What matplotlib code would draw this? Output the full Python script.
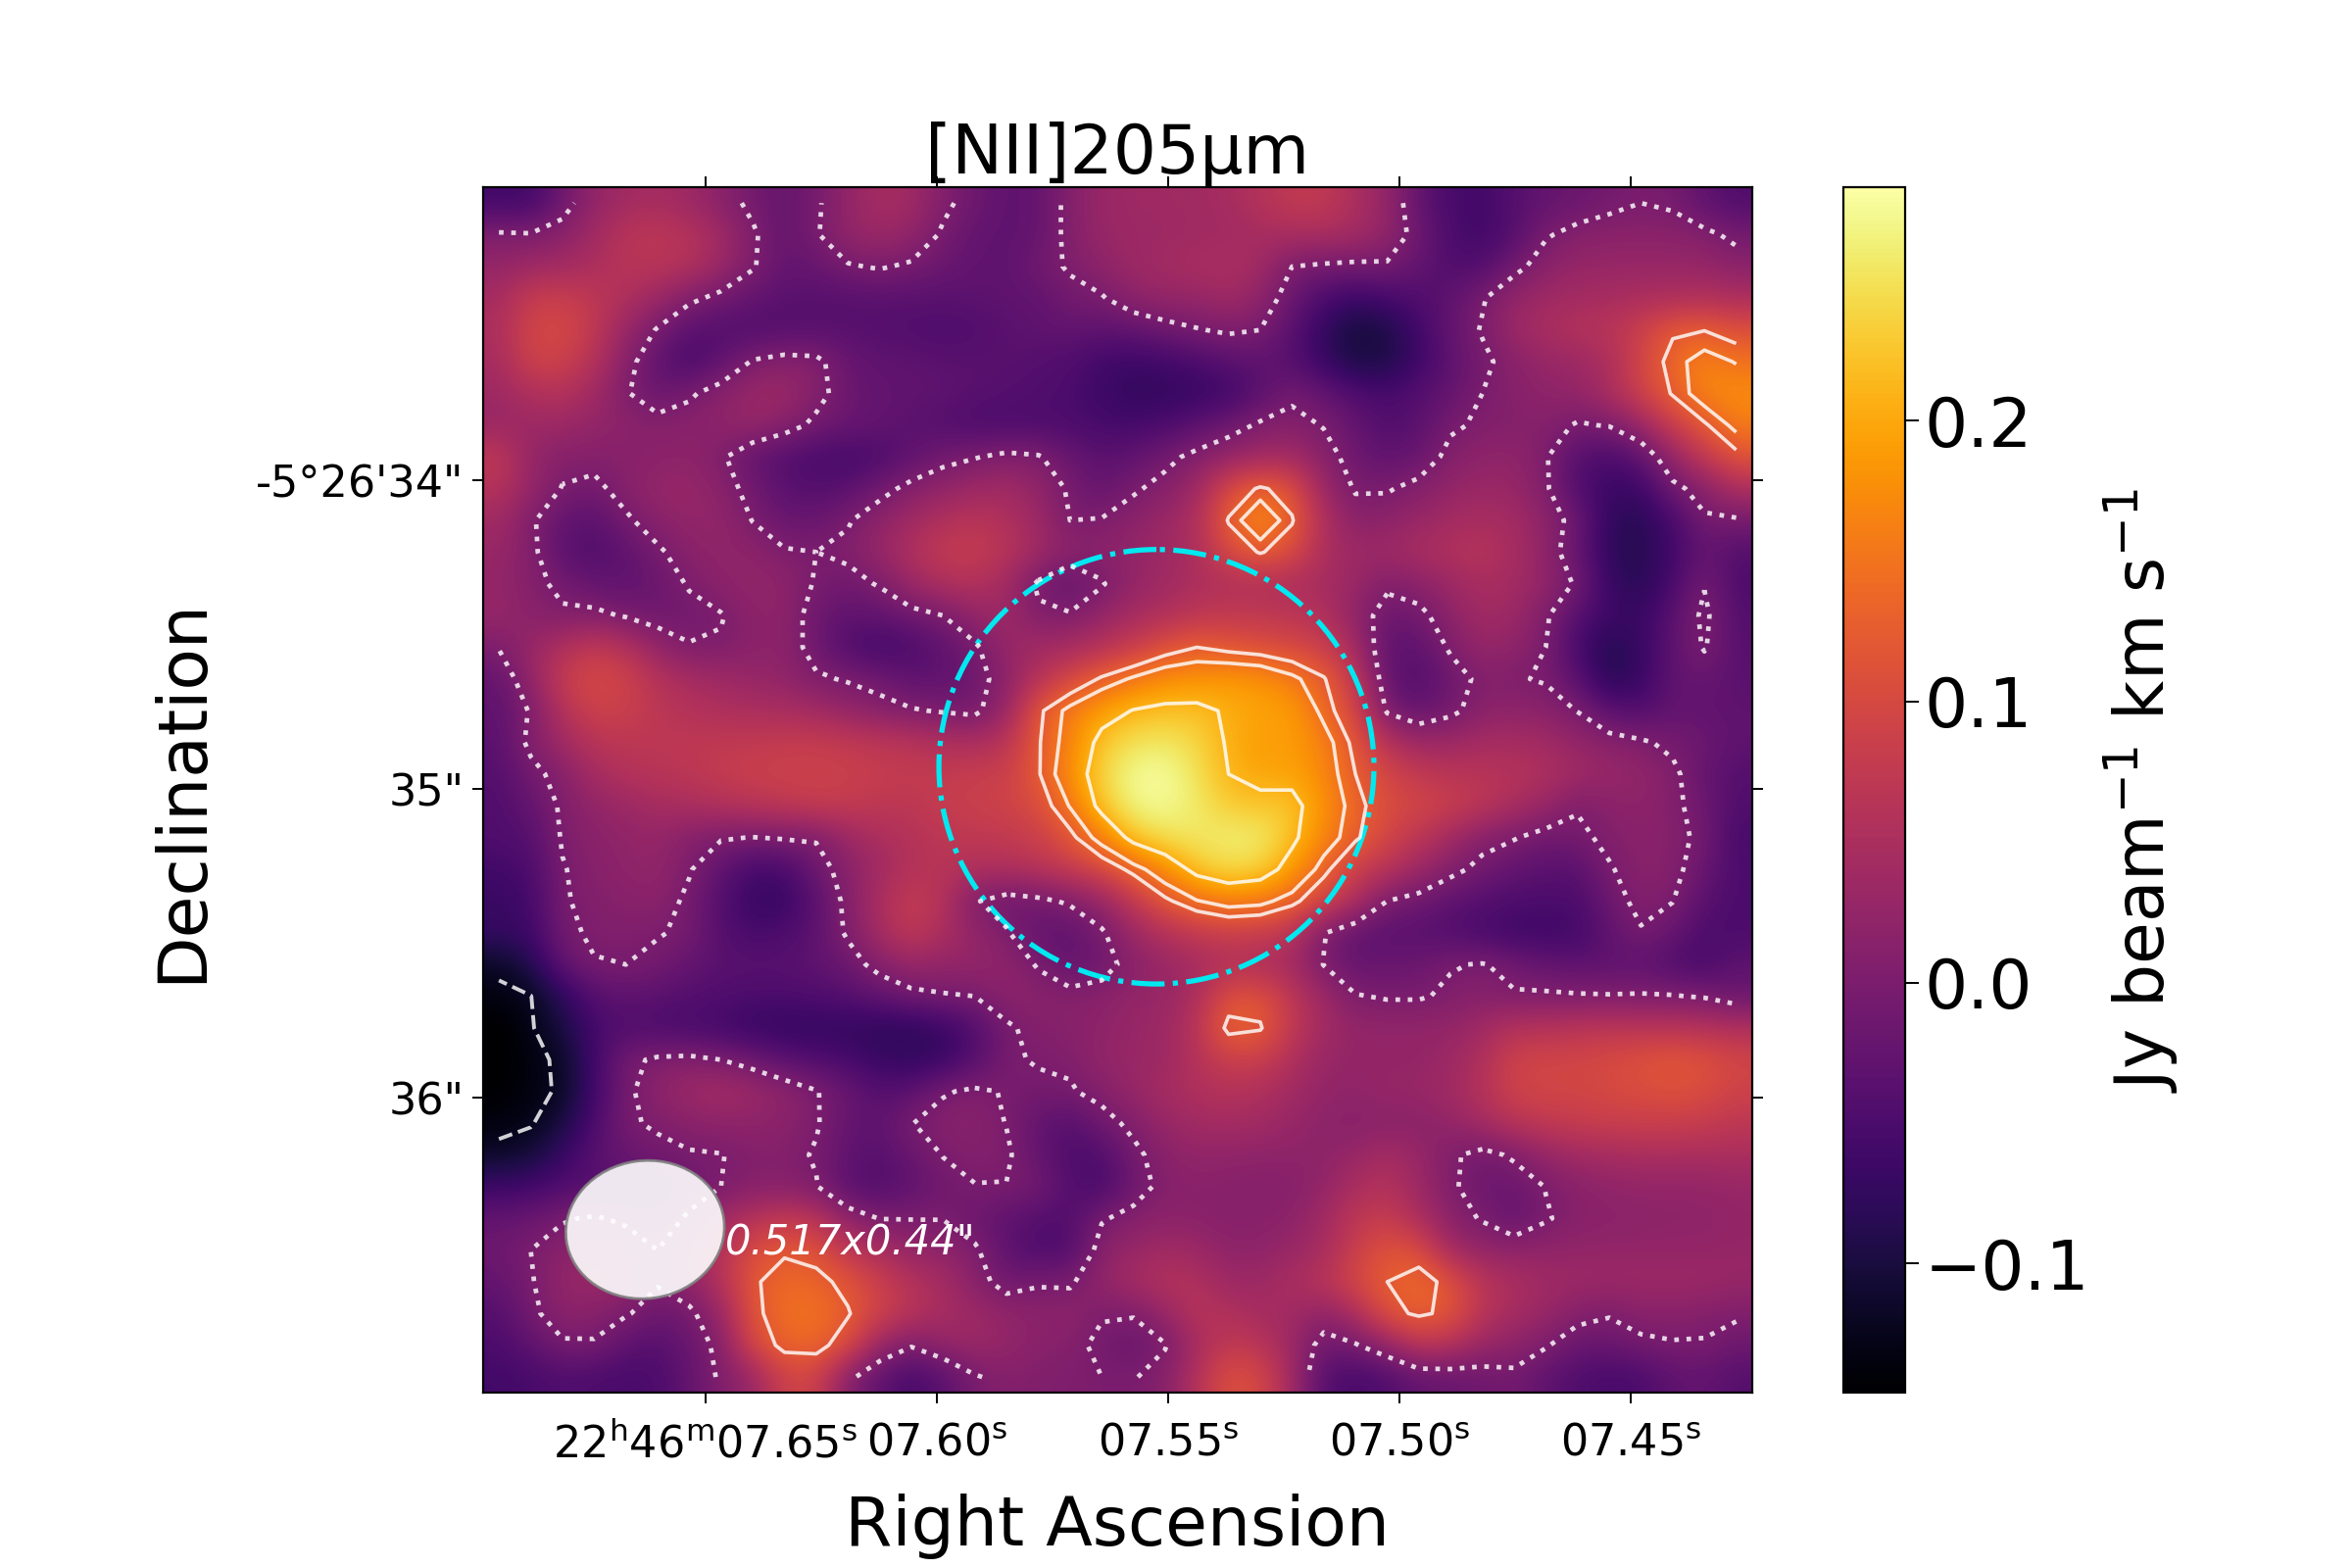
import numpy as np
import matplotlib
matplotlib.use("Agg")
import matplotlib.pyplot as plt
from matplotlib.patches import Ellipse
from matplotlib.transforms import Affine2D

# moment 0 map, mJy/beam km/s, top row first
flux_map = [
    [-60,-60,-15,25,40,45,35,15,-8,-25,-5,25,45,40,8,-15,-30,-25,10,30,38,38,40,45,60,75,75,50,25,-25,-55,-60,-40,-25,-18,-8,0,-5,-30,-45],
    [5,3,15,40,65,70,60,40,5,-25,-3,25,35,25,-5,-25,-30,-25,10,30,35,35,38,40,45,50,50,45,25,-15,-50,-62,-40,-3,10,15,15,15,8,-8],
    [25,35,40,50,65,65,60,35,3,-25,-20,-3,3,-5,-18,-28,-30,-10,3,20,35,42,48,50,42,0,-5,-8,-5,-25,-45,-45,-10,15,28,30,30,30,28,15],
    [45,80,85,70,55,35,8,-10,-25,-35,-38,-38,-35,-35,-35,-32,-30,-28,-8,-3,20,28,28,40,22,-18,-50,-65,-55,-45,-30,-3,25,38,42,45,50,50,55,50],
    [50,95,100,75,30,-3,-35,-42,-45,-42,-38,-38,-40,-45,-48,-45,-35,-30,-25,-30,-25,-12,-2,5,0,-35,-75,-105,-95,-60,-25,3,35,50,60,65,85,120,124,108],
    [45,90,90,60,15,-30,-55,-30,3,12,8,-20,-30,-30,-35,-35,-35,-40,-45,-60,-65,-60,-50,-35,-30,-40,-70,-100,-95,-65,-30,-8,15,30,35,50,95,138,165,148],
    [35,55,60,40,3,-20,-5,15,32,35,12,-18,-25,-28,-30,-35,-40,-45,-50,-65,-75,-75,-70,-65,-35,-8,-25,-45,-55,-40,-25,0,12,20,25,50,90,128,170,175],
    [30,35,35,25,18,12,15,20,30,15,-8,-18,-25,-35,-40,-50,-50,-48,-50,-55,-58,-50,-35,-15,5,12,-2,-25,-45,-35,-5,5,8,12,-3,2,35,85,120,160],
    [75,25,12,10,12,15,18,5,-25,-42,-52,-58,-50,-30,-12,-2,8,3,-20,-35,-28,-10,10,25,38,40,15,-15,-30,-20,10,20,22,3,-40,-50,-30,30,75,115],
    [60,30,-2,-8,12,28,30,15,-12,-35,-42,-35,-12,10,25,35,40,25,-5,-25,-5,12,35,100,130,110,30,-3,-3,10,25,32,30,5,-45,-68,-65,-10,15,55],
    [40,5,-25,-35,-5,15,25,25,-1,-20,-20,-3,20,40,55,65,55,35,0,2,18,32,55,128,185,128,55,15,18,30,42,48,42,20,-15,-78,-85,-55,-5,-5],
    [30,10,-35,-45,-30,-5,15,22,18,3,0,8,30,55,78,80,65,40,18,18,25,38,50,100,128,105,50,35,38,48,58,60,48,20,-25,-80,-88,-60,-25,-40],
    [25,10,-8,-25,-30,-18,3,18,25,20,-3,-12,3,35,55,60,40,-5,-25,-3,25,38,50,55,55,50,45,32,8,18,35,50,42,25,-5,-72,-85,-55,-2,-50],
    [30,15,5,8,-3,-15,-10,-2,18,20,-15,-30,-25,-12,0,25,40,5,3,25,45,55,70,75,72,68,55,22,-18,-10,20,40,35,5,-40,-62,-70,-35,8,-42],
    [2,30,55,75,60,25,2,3,15,20,-15,-45,-60,-50,-30,-5,28,40,45,60,80,108,125,115,108,98,85,42,-30,-30,5,30,22,0,-55,-90,-70,-30,3,-38],
    [-25,25,80,100,90,60,45,38,28,22,5,-3,-12,-30,-30,-15,18,60,95,130,155,175,180,185,180,158,128,75,-25,-45,-15,8,3,-3,-35,-88,-70,-28,-20,-35],
    [-30,3,60,90,85,70,60,52,50,48,40,25,12,3,-3,-8,28,118,160,190,212,220,220,205,195,190,140,95,-5,-25,-8,15,20,15,-1,-35,-45,-25,-28,-30],
    [-35,8,40,65,70,70,72,75,75,78,80,75,70,65,55,50,65,122,165,225,250,255,240,205,190,190,165,115,60,35,35,45,45,40,25,15,5,-8,-15,-30],
    [-40,-10,12,45,60,65,70,78,85,88,88,85,80,78,78,82,85,122,175,240,275,280,250,210,195,195,170,125,95,75,65,65,60,55,40,30,25,8,-25,-40],
    [-45,-25,5,25,35,45,50,58,65,72,80,78,72,70,80,85,90,105,152,225,270,275,258,230,225,225,180,135,105,95,85,70,50,30,3,15,20,8,-15,-45],
    [-45,-40,3,15,22,28,10,3,-1,3,3,35,50,60,70,72,75,85,115,165,225,250,255,262,262,220,170,130,95,70,40,12,2,-12,-8,8,15,12,-10,-55],
    [-60,-50,-2,12,20,25,3,-30,-55,-55,-15,15,40,60,65,55,55,65,80,100,135,175,225,245,235,190,135,85,65,35,10,-10,-25,-35,-35,-3,15,10,-20,-50],
    [-70,-60,-3,8,12,18,-8,-40,-72,-70,-35,10,50,80,60,3,-15,-8,5,30,75,118,148,165,160,135,95,55,0,-12,-30,-40,-48,-50,-50,-15,10,1,-35,-50],
    [-70,-65,-8,5,5,2,-5,-40,-55,-50,-30,5,45,75,50,25,3,-25,-30,-5,35,60,75,85,80,65,2,-25,-35,-38,-45,-55,-65,-65,-60,-30,-3,-22,-50,-50],
    [-118,-90,-25,-2,0,-8,-25,-35,-35,-35,-30,-15,12,30,25,25,20,-3,-25,-15,15,30,45,55,50,40,-1,-25,-20,-18,-2,2,-10,-25,-30,-30,-30,-45,-55,-30],
    [-132,-126,-80,-40,-30,-35,-40,-45,-50,-50,-45,-40,-25,-10,-3,0,18,15,10,15,25,30,50,108,112,70,35,2,-3,-3,5,12,3,5,3,2,3,2,-3,-18],
    [-150,-128,-100,-55,-45,-50,-55,-60,-70,-75,-75,-75,-80,-80,-70,-45,-5,10,12,20,30,35,65,135,128,75,40,25,25,25,25,40,60,60,65,70,65,65,60,55],
    [-150,-135,-118,-60,-8,5,8,0,-15,-35,-45,-55,-70,-75,-70,-40,-5,3,5,25,30,35,60,85,85,55,30,25,25,25,35,55,90,95,95,100,110,118,110,95],
    [-146,-135,-120,-60,-8,20,35,45,35,20,2,-20,-40,-35,-3,5,-2,-8,-3,10,30,45,55,60,55,40,25,22,30,30,40,60,90,95,95,100,105,110,105,90],
    [-135,-128,-100,-50,-5,5,15,20,20,15,3,-25,-30,-1,12,15,-1,-25,-40,-12,8,30,40,45,40,30,18,12,15,15,25,45,65,75,80,85,85,85,80,70],
    [-115,-105,-70,-35,-20,-10,-3,-1,8,10,-3,-30,-38,-20,1,8,5,-25,-48,-45,-8,15,25,22,20,20,18,30,45,30,5,-10,5,30,40,45,50,50,50,50],
    [-65,-60,-45,-40,-35,-30,-15,0,10,10,2,-35,-45,-30,-12,-1,-1,-8,-40,-55,-15,10,15,12,10,10,25,50,60,35,5,-15,-18,1,15,22,25,25,25,30],
    [-25,-20,-3,3,-5,-18,5,40,60,75,65,18,-1,-1,-1,-18,-30,-40,-45,-3,10,18,15,10,12,18,40,70,80,50,15,-3,-25,-3,12,15,18,20,20,25],
    [-15,0,15,25,15,0,30,60,105,120,112,70,50,25,20,5,-30,-50,-45,15,30,40,35,20,20,30,45,85,115,105,40,25,20,22,25,25,25,25,25,28],
    [-25,-3,25,35,25,3,25,60,120,140,135,115,85,60,45,15,-15,-3,-5,25,45,60,55,35,35,50,65,100,125,142,112,65,50,40,35,35,35,35,35,30],
    [-40,-8,18,12,3,-15,-8,30,115,145,148,128,90,65,45,35,25,15,20,3,3,30,65,55,45,40,22,50,115,130,118,65,45,30,12,3,15,15,10,5],
    [-50,-30,-5,-3,-30,-40,-20,10,100,135,138,105,30,3,25,35,25,15,10,-8,-20,-2,45,75,65,35,-15,-3,25,70,60,30,20,3,-20,-20,-8,-3,-3,-15],
    [-60,-55,-45,-50,-55,-50,-25,5,30,90,90,10,-30,-55,-35,-3,10,5,3,0,-2,12,60,110,100,40,-40,-55,-45,-25,-20,-15,-8,-30,-45,-55,-50,-30,-25,-40],
]
contour_levels = [-0.125, 0.0, 0.125, 0.15, 0.21]
contour_styles = ["--", ":", "-", "-", "-"]
contour_widths = [1.4, 1.7, 1.3, 1.3, 1.3]

ra_ticks = [7.65, 7.60, 7.55, 7.50, 7.45]
ra_labels = [r"22$^{\rm h}$46$^{\rm m}$07.65$^{\rm s}$", r"07.60$^{\rm s}$", r"07.55$^{\rm s}$",
             r"07.50$^{\rm s}$", r"07.45$^{\rm s}$"]
dec_ticks = [34, 35, 36]
dec_labels = ["-5°26'34\"", "35\"", "36\""]
cbar_ticks = [-0.1, 0.0, 0.1, 0.2]

# sky limits of the cutout, seconds of RA and arcsec below -5d26'
ra_left, ra_right = 7.698, 7.4238
dec_top, dec_bottom = 33.049, 36.956

data = np.array(flux_map) / 1000.0
ny, nx = data.shape
dx = (ra_right - ra_left) / nx
dy = (dec_bottom - dec_top) / ny
xc = ra_left + dx * (np.arange(nx) + 0.5)
yc = dec_top + dy * (np.arange(ny) + 0.5)

fig = plt.figure(figsize=(12, 8), dpi=200)
ax = fig.add_axes([0.2054, 0.1117, 0.5395, 0.7689])
im = ax.imshow(data, cmap="inferno", vmin=-0.146, vmax=0.283, aspect="auto",
               interpolation="bicubic", extent=[ra_left, ra_right, dec_bottom, dec_top])
ax.contour(xc, yc, data, levels=contour_levels, colors="white", alpha=0.82,
           linewidths=contour_widths, linestyles=contour_styles)

# aperture and beam
ax.add_patch(Ellipse((7.5525, 34.927), 0.094, 1.408, fill=False, ec="#00e8f0", lw=1.9, ls="-."))
px_to_sky = Affine2D().scale(-0.05 / 154.3, 1 / 206).translate(7.663, 36.427)
ax.add_patch(Ellipse((0, 0), 106, 92, angle=-8, fc="white", ec="gray", lw=1.0, alpha=0.9,
                     transform=px_to_sky + ax.transData, zorder=5))
ax.text(7.6458, 36.47, "0.517x0.44\"", color="white", fontsize=15, style="italic",
        ha="left", va="center", zorder=6)

ax.set_xlim(ra_left, ra_right)
ax.set_ylim(dec_bottom, dec_top)
ax.set_xticks(ra_ticks, ra_labels)
ax.set_yticks(dec_ticks, dec_labels)
ax.tick_params(top=True, right=True, direction="out", length=4, width=0.7, labelsize=16)
ax.tick_params(axis="x", pad=7)
ax.tick_params(axis="y", pad=3)
ax.set_xlabel("Right Ascension", fontsize=25, labelpad=10)
ax.set_ylabel("Declination", fontsize=25, labelpad=15)
ax.set_title("[NII]205μm", fontsize=25, pad=5)

cax = fig.add_axes([0.7838, 0.1117, 0.0262, 0.7689])
cbar = fig.colorbar(im, cax=cax, ticks=cbar_ticks)
cbar.ax.tick_params(labelsize=25, length=5, width=0.7, pad=2)
cbar.set_label(r"Jy beam$^{-1}$ km s$^{-1}$", fontsize=25, labelpad=4.5)

plt.savefig("out.png", dpi=200)
